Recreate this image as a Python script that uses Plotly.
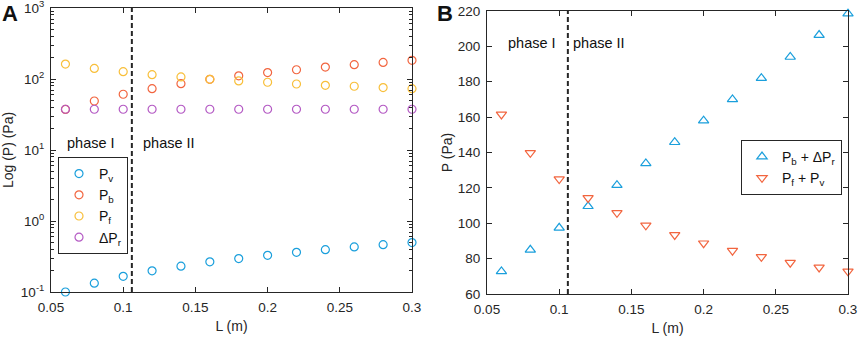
import plotly.graph_objects as go

# ---------------- data ----------------
L = [0.06, 0.08, 0.10, 0.12, 0.14, 0.16, 0.18, 0.20, 0.22, 0.24, 0.26, 0.28, 0.30]

P_v = [0.100, 0.133, 0.166, 0.199, 0.231, 0.266, 0.296, 0.329, 0.362, 0.395, 0.431, 0.464, 0.496]
P_b = [37.3, 49, 61, 73, 86, 99, 111, 123, 135, 147, 159, 171, 183]
P_f = [162, 141, 127, 115, 107, 99, 94, 90, 85, 81.5, 79, 75.6, 73]
dP_r = [37.5, 37.5, 37.5, 37.5, 37.5, 37.5, 37.5, 37.5, 37.5, 37.5, 37.5, 37.5, 37.5]

Pb_plus_dPr = [72.8, 85.0, 97.4, 109.6, 121.5, 133.8, 145.8, 158.0, 170.0, 182.0, 194.0, 206.4, 218.5]
Pf_plus_Pv = [161.5, 139.8, 125.0, 114.3, 105.9, 98.8, 93.4, 88.7, 84.5, 81.0, 77.7, 75.0, 72.8]

phase_boundary = 0.106

x_tickvals = [0.05, 0.1, 0.15, 0.2, 0.25, 0.3]
x_ticktext = ["0.05", "0.1", "0.15", "0.2", "0.25", "0.3"]
log_tickvals = [0.1, 1, 10, 100, 1000]
log_ticktext = ["10<sup>-1</sup>", "10<sup>0</sup>", "10<sup>1</sup>", "10<sup>2</sup>", "10<sup>3</sup>"]
log_minor_vals = [m * d for d in [0.1, 1, 10, 100] for m in [2, 3, 4, 5, 6, 7, 8, 9]]
lin_tickvals = [60, 80, 100, 120, 140, 160, 180, 200, 220]

# ---------------- style ----------------
FONT = "Liberation Sans, Arial, Helvetica, sans-serif"
AX = "#262626"
C_BLUE = "#1A9FDC"
C_RED = "#F2653F"
C_YEL = "#F8BF3A"
C_PUR = "#B45AC4"
W, H = 858, 338
TICKSIZE = 13.5

fig = go.Figure()

def sc(x, y, name, color, symbol, size, xa, ya, legend):
    fig.add_trace(go.Scatter(
        x=x, y=y, name=name, mode="markers",
        marker=dict(symbol=symbol, size=size, color=color, line=dict(width=1.2, color=color)),
        xaxis=xa, yaxis=ya, legend=legend, cliponaxis=False))

sc(L, P_v, "P<sub>v</sub>", C_BLUE, "circle-open", 8, "x", "y", "legend")
sc(L, P_b, "P<sub>b</sub>", C_RED, "circle-open", 8, "x", "y", "legend")
sc(L, P_f, "P<sub>f</sub>", C_YEL, "circle-open", 8, "x", "y", "legend")
sc(L, dP_r, "ΔP<sub>r</sub>", C_PUR, "circle-open", 8, "x", "y", "legend")

sc(L, Pb_plus_dPr, "P<sub>b</sub> + ΔP<sub>r</sub>", C_BLUE, "triangle-up-open", 9, "x2", "y2", "legend2")
sc(L, Pf_plus_Pv, "P<sub>f</sub> + P<sub>v</sub>", C_RED, "triangle-down-open", 9, "x2", "y2", "legend2")

axis_common = dict(showline=True, linecolor=AX, linewidth=1, mirror="ticks",
                   ticks="inside", ticklen=5, tickcolor=AX, showgrid=False, zeroline=False,
                   automargin=False, ticklabelstandoff=3, ticklabeloverflow="allow",
                   tickfont=dict(family=FONT, size=TICKSIZE, color=AX))

def px_x(p):
    return min(1.0, max(0.0, p / W))

def px_y(p):
    return min(1.0, max(0.0, 1 - p / H))

title_font = dict(family=FONT, size=14, color=AX)

fig.update_layout(
    width=W, height=H,
    margin=dict(l=0, r=0, t=0, b=0, autoexpand=False),
    paper_bgcolor="white", plot_bgcolor="white",
    font=dict(family=FONT, size=14, color=AX),
    xaxis=dict(domain=[px_x(51), px_x(412)], range=[0.05, 0.3], tickvals=x_tickvals, ticktext=x_ticktext,
               title=dict(text="L (m)", font=title_font, standoff=6),
               anchor="y", **axis_common),
    yaxis=dict(domain=[px_y(292), px_y(8)], type="log", range=[-1, 3],
               tickvals=log_tickvals, ticktext=log_ticktext,
               minor=dict(tickmode="array", tickvals=log_minor_vals, ticks="inside", ticklen=3,
                          tickcolor=AX, showgrid=False),
               title=dict(text="Log (P) (Pa)", font=title_font, standoff=14),
               anchor="x", **axis_common),
    xaxis2=dict(domain=[px_x(487), px_x(848)], range=[0.05, 0.3], tickvals=x_tickvals, ticktext=x_ticktext,
                title=dict(text="L (m)", font=title_font, standoff=6),
                anchor="y2", **axis_common),
    yaxis2=dict(domain=[px_y(294), px_y(11)], range=[60, 220], tickvals=lin_tickvals,
                title=dict(text="P (Pa)", font=title_font, standoff=1),
                anchor="x2", **axis_common),
    legend=dict(x=px_x(58), y=px_y(157), xanchor="left", yanchor="top",
                bgcolor="white", bordercolor=AX, borderwidth=1,
                font=dict(family=FONT, size=14, color="#111"), tracegroupgap=0,
                itemwidth=30),
    legend2=dict(x=px_x(741), y=px_y(140), xanchor="left", yanchor="top",
                 bgcolor="white", bordercolor=AX, borderwidth=1,
                 font=dict(family=FONT, size=14, color="#111"), tracegroupgap=0,
                 itemwidth=30),
    showlegend=True,
)

# phase boundary lines
for xr, yr in [("x", "y domain"), ("x2", "y2 domain")]:
    fig.add_shape(type="line", x0=phase_boundary, x1=phase_boundary, y0=0, y1=1,
                  xref=xr, yref=yr, line=dict(color=AX, width=2, dash="5px,3px"))

# annotations
def ann(text, x, y, size=14.5, bold=False, xanchor="left"):
    fig.add_annotation(text=("<b>%s</b>" % text) if bold else text, x=px_x(x), y=px_y(y),
                       xref="paper", yref="paper", showarrow=False, xanchor=xanchor, yanchor="middle",
                       font=dict(family=FONT, size=size, color="#111"))

ann("phase I", 65, 143)
ann("phase II", 141, 143)
ann("phase I", 506, 43)
ann("phase II", 571, 43)
ann("A", 0, 14, size=22, bold=True)
ann("B", 435, 14, size=22, bold=True)

fig.write_html("out.html", config={"displayModeBar": False},
               post_script="document.body.style.margin='0';")
